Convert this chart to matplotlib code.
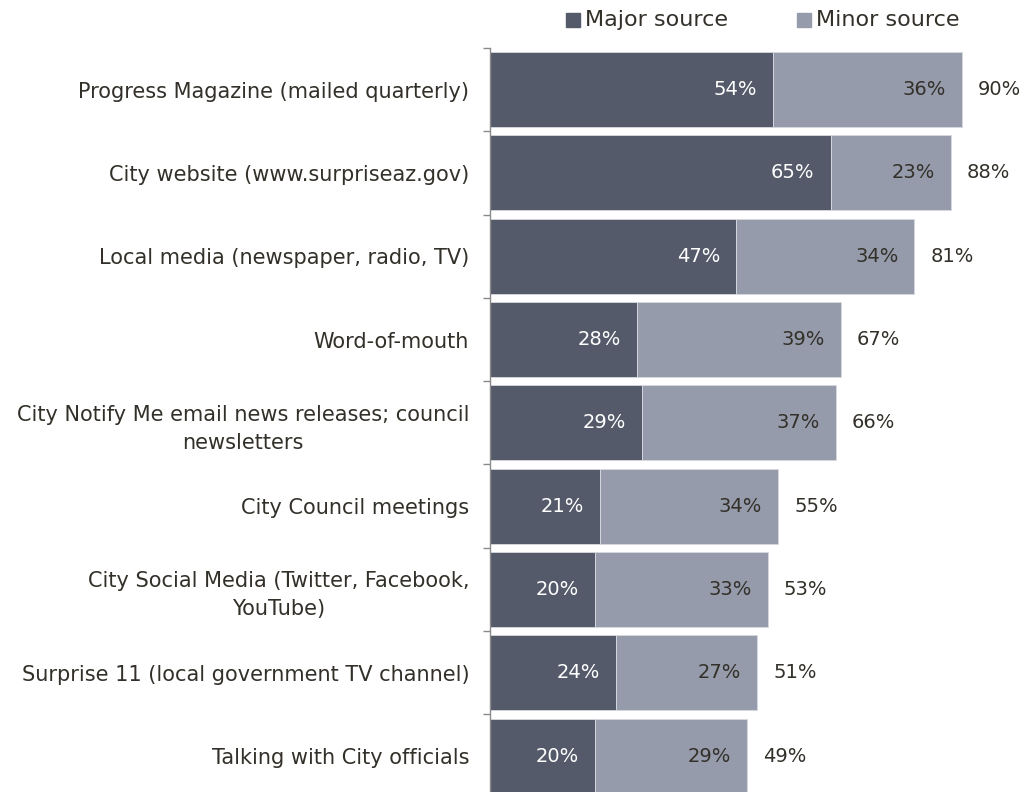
import matplotlib
matplotlib.use("Agg")
import matplotlib.pyplot as plt
from matplotlib.patches import Rectangle

categories = [
    "Progress Magazine (mailed quarterly)",
    "City website (www.surpriseaz.gov)",
    "Local media (newspaper, radio, TV)",
    "Word-of-mouth",
    "City Notify Me email news releases; council\nnewsletters",
    "City Council meetings",
    "City Social Media (Twitter, Facebook,\nYouTube)",
    "Surprise 11 (local government TV channel)",
    "Talking with City officials",
]
major = [54, 65, 47, 28, 29, 21, 20, 24, 20]
minor = [36, 23, 34, 39, 37, 34, 33, 27, 29]
totals = [90, 88, 81, 67, 66, 55, 53, 51, 49]

MAJOR_C = "#545a6a"
MINOR_C = "#959baa"
TEXT_C = "#33302a"

plt.rcParams["font.family"] = ["DejaVu Sans"]

W, H = 1026, 792
fig = plt.figure(figsize=(W / 100, H / 100), dpi=100)
left_px, top_px, slot = 490, 48, 83.3
n = len(categories)
bottom_px = top_px + n * slot
ax = fig.add_axes([left_px / W, 1 - bottom_px / H, (W - left_px) / W, (bottom_px - top_px) / H])

px_per = 5.24
ax.set_xlim(0, (W - left_px) / px_per)
ax.set_ylim(n - 0.5, -0.5)

ys = list(range(n))
ax.barh(ys, major, height=0.9, color=MAJOR_C, edgecolor="#d8dae0", linewidth=0.6)
ax.barh(ys, minor, left=major, height=0.9, color=MINOR_C, edgecolor="#d8dae0", linewidth=0.6)

VAL_FS = 14
pad = 16 / px_per
for y, a, b, t in zip(ys, major, minor, totals):
    ax.text(a - pad, y, f"{a}%", ha="right", va="center", color="white", fontsize=VAL_FS)
    ax.text(a + b - pad, y, f"{b}%", ha="right", va="center", color=TEXT_C, fontsize=VAL_FS)
    ax.text(a + b + 16 / px_per, y, f"{t}%", ha="left", va="center", color=TEXT_C, fontsize=VAL_FS)

for s in ["top", "right", "bottom"]:
    ax.spines[s].set_visible(False)
ax.spines["left"].set_color("#8a8a8a")
ax.spines["left"].set_linewidth(1.0)
ax.set_xticks([])

ax.set_yticks(ys)
ax.set_yticklabels(categories, fontsize=15, color=TEXT_C, ha="right",
                   multialignment="center", linespacing=1.5)
ax.tick_params(axis="y", which="major", length=0, pad=15)
ax.set_yticks([i - 0.5 for i in range(n + 1)], minor=True)
ax.tick_params(axis="y", which="minor", length=5, color="#8a8a8a", width=1.0, direction="out")

# Legend
sq = 14
for x0, label, c in [(566, "Major source", MAJOR_C), (797, "Minor source", MINOR_C)]:
    fig.patches.append(Rectangle((x0 / W, 1 - 27 / H), sq / W, sq / H,
                                 transform=fig.transFigure, color=c))
    fig.text((x0 + sq + 5) / W, 1 - 20 / H, label, ha="left", va="center",
             fontsize=16, color=TEXT_C)

fig.savefig("out.png", dpi=100, facecolor="white")
